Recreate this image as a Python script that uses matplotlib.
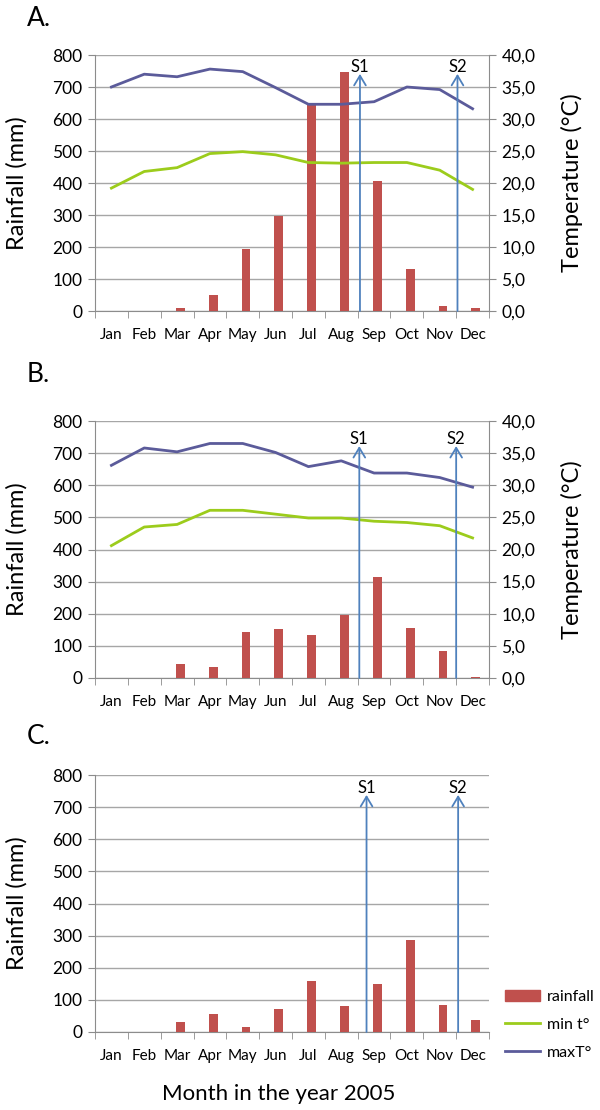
import matplotlib
matplotlib.use('Agg')
import matplotlib.pyplot as plt
from matplotlib.patches import Patch
from matplotlib.lines import Line2D
import numpy as np

plt.rcParams['font.family'] = ['Lato', 'DejaVu Sans']

# Données
MONTHS = ['Jan', 'Feb', 'Mar', 'Apr', 'May', 'Jun',
          'Jul', 'Aug', 'Sep', 'Oct', 'Nov', 'Dec']

RAIN_A = [0, 0, 10, 49, 194, 298, 646, 748, 407, 130, 15, 8]
MIN_A = [19.2, 21.8, 22.4, 24.6, 24.9, 24.4, 23.2, 23.1, 23.2, 23.2, 22.0, 19.0]
MAX_A = [35.0, 37.0, 36.6, 37.8, 37.4, 34.9, 32.3, 32.3, 32.7, 35.0, 34.6, 31.6]

RAIN_B = [0, 0, 45, 33, 142, 151, 135, 195, 315, 155, 85, 4]
MIN_B = [20.6, 23.5, 23.9, 26.1, 26.1, 25.5, 24.9, 24.9, 24.4, 24.2, 23.7, 21.8]
MAX_B = [33.1, 35.8, 35.2, 36.5, 36.5, 35.1, 32.9, 33.8, 31.9, 31.9, 31.2, 29.7]

RAIN_C = [0, 0, 31, 57, 16, 73, 158, 81, 149, 286, 85, 36]

# positions des flèches S1 / S2 (en mois) et hauteur (mm)
ARROWS_A = [8.07, 11.04]
ARROWS_B = [8.05, 11.0]
ARROWS_C = [8.27, 11.06]
ARROW_TOP = [741, 722, 738]

RAIN_COLOR = '#c0504d'
MIN_COLOR = '#9ccc1c'
MAX_COLOR = '#5b5b9a'
ARROW_COLOR = '#4f81bd'
GRID = '#a6a6a6'
SPINE = '#8c8c8c'

FIG_H = 1110.0


def axes_rect(top, bottom, left=95, right=489):
    return [left / 600, 1 - bottom / FIG_H, (right - left) / 600, (bottom - top) / FIG_H]


def draw_panel(fig, rect, rain, tmin=None, tmax=None, arrows=(), top=740):
    ax = fig.add_axes(rect)
    x = np.arange(12)
    ax.bar(x + 0.6, rain, width=0.27, color=RAIN_COLOR, zorder=3)
    ax.set_xlim(0, 12)
    ax.set_ylim(0, 800)
    ax.set_yticks(range(0, 801, 100))
    ax.yaxis.grid(True, color=GRID, lw=1)
    ax.set_axisbelow(True)
    ax.set_xticks(x + 0.5)
    ax.set_xticklabels(MONTHS)
    ax.set_xticks(np.arange(13), minor=True)
    ax.tick_params(axis='x', which='major', length=0, pad=12, labelsize=11)
    ax.tick_params(axis='x', which='minor', length=5, color=SPINE)
    ax.tick_params(axis='y', length=5, color=SPINE, labelsize=12.5, pad=4)
    for s in ['top', 'right']:
        ax.spines[s].set_visible(False)
    ax.spines['left'].set_color(SPINE)
    ax.spines['bottom'].set_color(SPINE)
    ax.set_ylabel('Rainfall (mm)', fontsize=17)
    ax.yaxis.set_label_coords(-0.17, 0.5)

    if tmin is not None:
        ax2 = ax.twinx()
        ax2.plot(x + 0.5, tmin, color=MIN_COLOR, lw=2)
        ax2.plot(x + 0.5, tmax, color=MAX_COLOR, lw=2)
        ax2.set_ylim(0, 40)
        ticks = np.arange(0, 41, 5)
        ax2.set_yticks(ticks)
        ax2.set_yticklabels([f'{t:.1f}'.replace('.', ',') for t in ticks])
        ax2.tick_params(axis='y', length=5, color=SPINE, labelsize=12.5, pad=4)
        for s in ['top', 'left', 'bottom']:
            ax2.spines[s].set_visible(False)
        ax2.spines['right'].set_color(SPINE)
        ax2.set_ylabel('Temperature (°C)', fontsize=17)
        ax2.yaxis.set_label_coords(1.183, 0.5)
        arrow_ax = ax2
        scale = 40 / 800
    else:
        arrow_ax = ax
        scale = 1

    for name, xa in zip(['S1', 'S2'], arrows):
        arrow_ax.annotate('', xy=(xa, top * scale), xytext=(xa, 0),
                          arrowprops=dict(arrowstyle='->, head_length=0.5, head_width=0.3',
                                          color=ARROW_COLOR, lw=1.3,
                                          shrinkA=0, shrinkB=0, mutation_scale=14),
                          zorder=6)
        arrow_ax.text(xa, (top + 22) * scale, name, ha='center', va='center',
                      fontsize=12, zorder=6)
    return ax


fig = plt.figure(figsize=(6, 11.1), dpi=100)

draw_panel(fig, axes_rect(55, 311), RAIN_A, MIN_A, MAX_A, ARROWS_A, ARROW_TOP[0])
draw_panel(fig, axes_rect(421, 678), RAIN_B, MIN_B, MAX_B, ARROWS_B, ARROW_TOP[1])
axc = draw_panel(fig, axes_rect(775, 1032), RAIN_C, arrows=ARROWS_C, top=ARROW_TOP[2])

fig.text(27 / 600, 1 - 18 / FIG_H, 'A.', fontsize=19, va='center')
fig.text(27 / 600, 1 - 375 / FIG_H, 'B.', fontsize=19, va='center')
fig.text(27 / 600, 1 - 737 / FIG_H, 'C.', fontsize=19, va='center')

fig.text(279 / 600, 1 - 1094 / FIG_H, 'Month in the year 2005', fontsize=16,
         ha='center', va='center')

handles = [Patch(color=RAIN_COLOR),
           Line2D([], [], color=MIN_COLOR, lw=2),
           Line2D([], [], color=MAX_COLOR, lw=2)]
axc.legend(handles, ['rainfall', 'min t°', 'maxT°'], loc='upper left',
           bbox_to_anchor=(505 / 600, 1 - 990 / FIG_H), bbox_transform=fig.transFigure,
           frameon=False, fontsize=11.5, handlelength=2.2, handleheight=0.7,
           handletextpad=0.4, labelspacing=0.85, borderpad=0, borderaxespad=0)

plt.savefig('out.png', dpi=100)
